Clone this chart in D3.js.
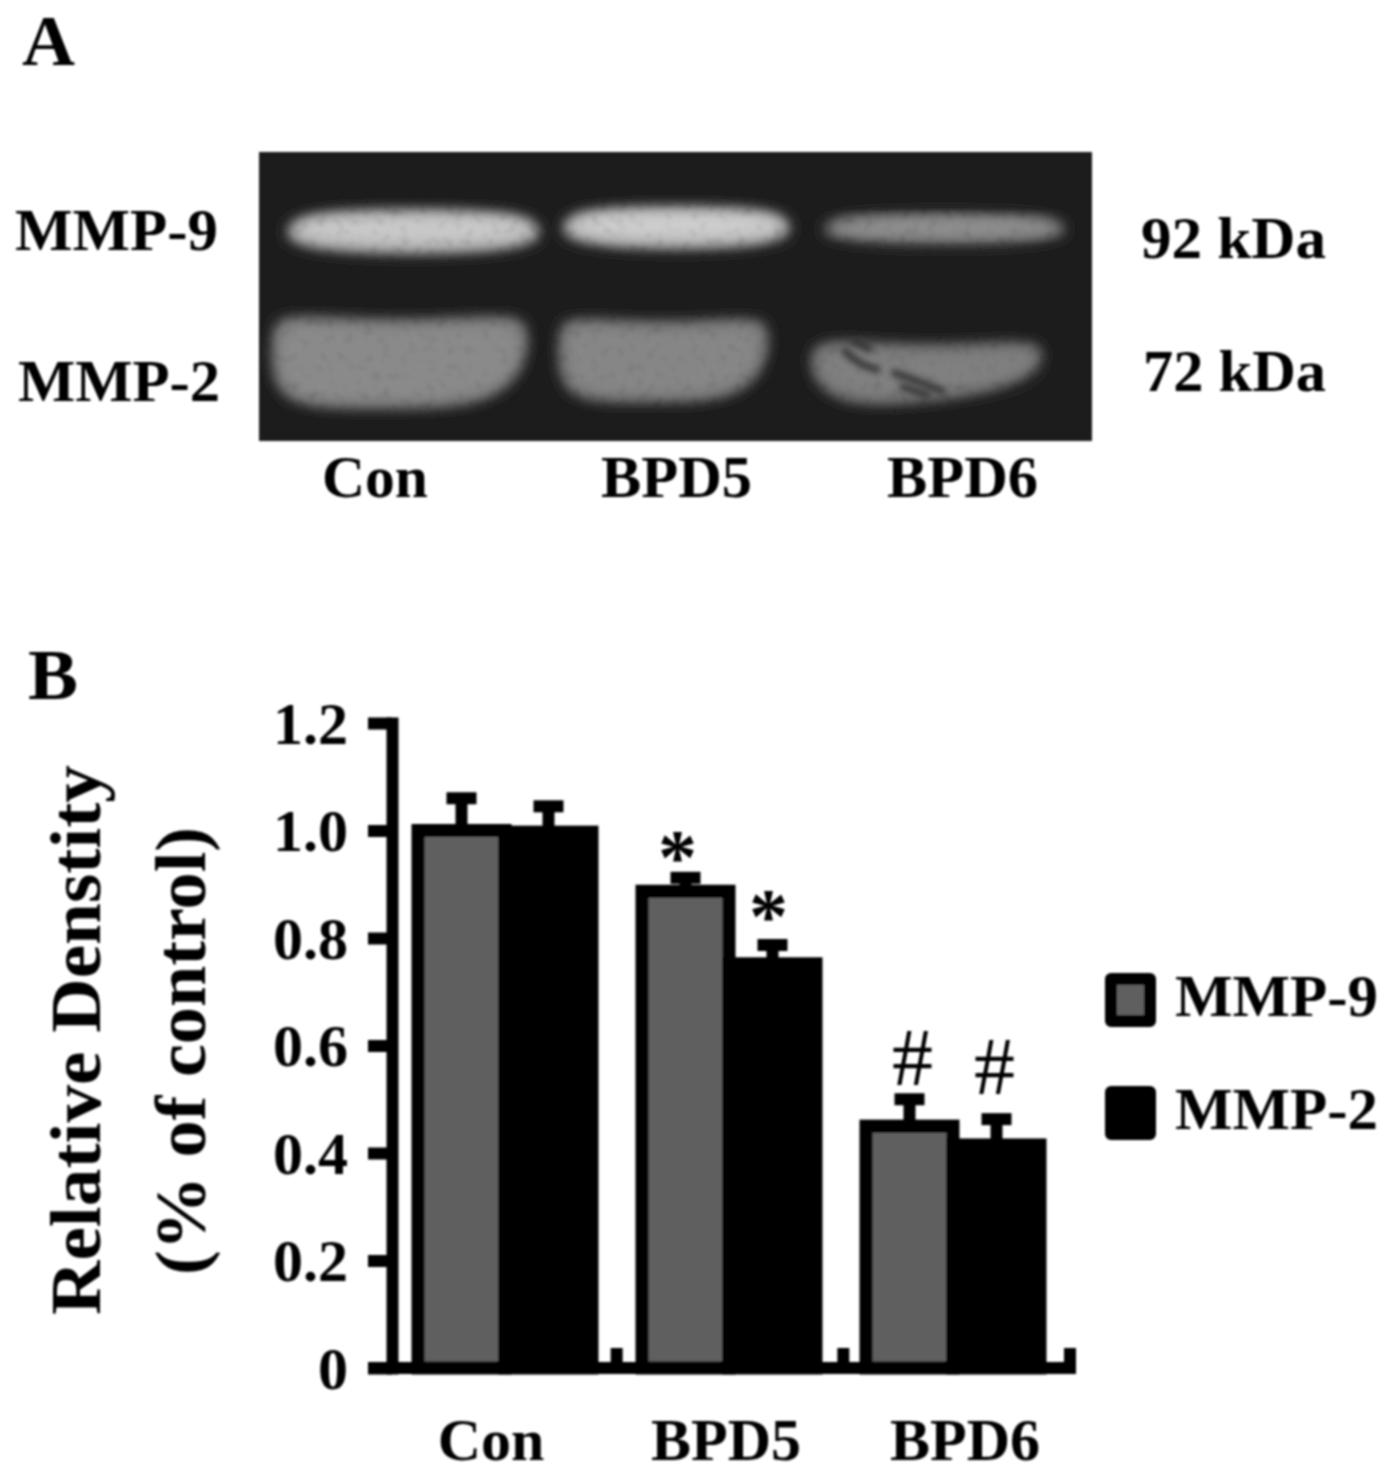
<!DOCTYPE html>
<html>
<head>
<meta charset="utf-8">
<script src="https://cdn.jsdelivr.net/npm/d3@7"></script>
<style>
  html, body { margin: 0; background: #fff; }
  svg { display: block; }
  text { font-family: "Liberation Serif", serif; font-weight: bold; fill: #000; }
</style>
</head>
<body>
<div id="chart"></div>
<script>
var groups = ['Con', 'BPD5', 'BPD6'];
var seriesNames = ['MMP-9', 'MMP-2'];
var mmp9Values = [1.0, 0.887, 0.45];
var mmp2Values = [0.997, 0.752, 0.415];
var mmp9Errors = [0.06, 0.025, 0.05];
var mmp2Errors = [0.048, 0.035, 0.048];
var mmp9Marks = ['', '*', '#'];
var mmp2Marks = ['', '*', '#'];
var yTicks = [0, 0.2, 0.4, 0.6, 0.8, 1.0, 1.2];
// brightness of the gel bands, 0-1
var mmp9Bright = [0.8, 0.82, 0.55];
var mmp2Bright = [0.5, 0.48, 0.45];

var svg = d3.select('#chart').append('svg').attr('width', 1384).attr('height', 1480);
var defs = svg.append('defs');

// everything in the source is a soft upscaled scan
defs.append('filter').attr('id', 'soft').attr('filterUnits', 'userSpaceOnUse')
  .attr('x', 0).attr('y', 0).attr('width', 1384).attr('height', 1480)
  .append('feGaussianBlur').attr('stdDeviation', 0.8);

// blur the band first and speckle it afterwards, so the grain stays visible
function bandFilter(id, blur, amount) {
  var f = defs.append('filter').attr('id', id).attr('x', '-20%').attr('y', '-50%').attr('width', '140%').attr('height', '200%');
  f.append('feGaussianBlur').attr('in', 'SourceGraphic').attr('stdDeviation', blur).attr('result', 'b');
  f.append('feTurbulence').attr('type', 'fractalNoise').attr('baseFrequency', 0.11).attr('numOctaves', 2).attr('seed', 7).attr('result', 'n');
  f.append('feColorMatrix').attr('in', 'n').attr('type', 'matrix')
    .attr('values', '0 0 0 0 0  0 0 0 0 0  0 0 0 0 0  ' + amount + ' 0 0 0 ' + (1 - amount * 0.5)).attr('result', 'mask');
  f.append('feComposite').attr('in', 'b').attr('in2', 'mask').attr('operator', 'in').attr('result', 'mottled');
  f.append('feGaussianBlur').attr('in', 'mottled').attr('stdDeviation', 1.3);
}
bandFilter('bandOuter', 6, 0.5);
bandFilter('bandInner', 8, 0.8);
defs.append('filter').attr('id', 'streak').attr('x', '-30%').attr('y', '-100%').attr('width', '160%').attr('height', '300%')
  .append('feGaussianBlur').attr('stdDeviation', 3.2);

var root = svg.append('g').attr('filter', 'url(#soft)');

function label(g, str, x, y, size, width) {
  var t = g.append('text').attr('x', x).attr('y', y).style('font-size', size + 'px').text(str);
  if (width) t.attr('textLength', width).attr('lengthAdjust', 'spacingAndGlyphs');
  return t;
}

// ---- panel A: the gel
var gel = root.append('g');
label(gel, 'A', 22, 65, 72, 53);
gel.append('rect').attr('x', 259).attr('y', 152).attr('width', 833).attr('height', 289).attr('fill', '#1f1f1f');

var line = d3.line().curve(d3.curveBasisClosed);
var grey = d3.scaleLinear().domain([0, 1]).range(['#1f1f1f', '#ffffff']);

// band outlines, unit square per band
var thinOutline = [[0, .5], [.02, .25], [.15, .05], [.5, 0], [.85, .05], [.98, .25], [1, .5], [.98, .7], [.85, .92], [.5, 1], [.15, .92], [.02, .7]];
var fatOutline = [[-.01, .45], [-.01, .03], [.06, -.06], [.5, .03], [.94, -.06], [1.01, .03], [1.01, .4], [.95, .76], [.78, 1.02], [.4, 1.02], [.1, 1.02], [0, .78]];
var bowlOutline = [[0, .15], [.08, -.06], [.5, .1], [.92, -.02], [1.01, .08], [.98, .52], [.75, .84], [.45, 1], [.18, 1.04], [.03, .72]];

var mmp9Boxes = [[284, 208, 259, 49], [560, 205, 233, 47], [821, 212, 247, 35]];
var mmp2Boxes = [[268, 313, 264, 100], [554, 315, 219, 92], [801, 335, 249, 75]];

function shrink(box, outline, inset, lift) {
  return outline.map(function(p) {
    return [box[0] + inset + p[0] * (box[2] - 2 * inset), box[1] + inset - lift + p[1] * (box[3] - 2 * inset)];
  });
}
function drawBand(box, outline, bright, outerInset, inset, lift) {
  gel.append('path').attr('d', line(shrink(box, outline, outerInset, 0))).attr('fill', grey(bright * 0.75)).attr('filter', 'url(#bandOuter)');
  gel.append('path').attr('d', line(shrink(box, outline, inset, lift))).attr('fill', grey(bright)).attr('opacity', 0.85).attr('filter', 'url(#bandInner)');
}
groups.forEach(function(g, i) {
  drawBand(mmp9Boxes[i], thinOutline, mmp9Bright[i], 2, 9, 3);
  drawBand(mmp2Boxes[i], i == 2 ? bowlOutline : fatOutline, mmp2Bright[i], 7, 12, 0);
});

// the cracked patches in the BPD6 MMP-2 band
var streaks = [[[843, 350], [862, 366], [880, 370]], [[852, 340], [872, 350]], [[892, 372], [915, 380], [945, 392]], [[900, 386], [930, 396]]];
streaks.forEach(function(s) {
  gel.append('path').attr('d', d3.line().curve(d3.curveBasis)(s)).attr('fill', 'none')
    .attr('stroke', '#333').attr('stroke-width', 7).attr('filter', 'url(#streak)');
});

label(gel, 'MMP-9', 15, 250, 60, 203);
label(gel, 'MMP-2', 18, 401, 60, 202);
label(gel, '92 kDa', 1141, 258, 60, 185);
label(gel, '72 kDa', 1143, 391, 60, 183);
label(gel, 'Con', 322, 497, 60, 106);
label(gel, 'BPD5', 601, 497, 60, 151);
label(gel, 'BPD6', 887, 497, 60, 151);

// ---- panel B: the bars
var chart = root.append('g');
label(chart, 'B', 28, 699, 72, 50);

var y = d3.scaleLinear().domain([0, 1.2]).range([1368, 723]);
var x0 = d3.scaleBand().domain(groups).range([394, 1066]);
var x1 = d3.scaleBand().domain(seriesNames).range([24, 198]);
// the axis ticks do not line up with the bar groups exactly
var xTick = d3.scaleBand().domain(groups).range([390, 1070]);

var colors = { 'MMP-9': '#5e5e5e', 'MMP-2': '#000000' };
var seriesData = [
  { name: 'MMP-9', values: mmp9Values, errors: mmp9Errors, marks: mmp9Marks, markDx: [0, -8, 3], markDy: [0, 5, -14] },
  { name: 'MMP-2', values: mmp2Values, errors: mmp2Errors, marks: mmp2Marks, markDx: [0, -4, -2], markDy: [0, -3, -25] }
];

// y axis
var yAxis = d3.axisLeft(y).tickValues(yTicks).tickSize(24).tickSizeOuter(0).tickPadding(20)
  .tickFormat(function(d) { return d === 0 ? '0' : d3.format('.1f')(d); });
var yG = chart.append('g').attr('transform', 'translate(392,0)').call(yAxis);
yG.selectAll('.tick line').attr('stroke', '#000').attr('stroke-width', 12);
yG.select('.domain').attr('stroke', '#000').attr('stroke-width', 12).attr('stroke-linecap', 'square');
yG.selectAll('.tick text').attr('fill', '#000').style('font-size', '60px').attr('dy', 20);

var bars = chart.selectAll('.series').data(seriesData).enter().append('g').attr('class', 'series');
function barCenter(s, i) { return x0(groups[i]) + x1(s.name) + x1.bandwidth() / 2; }

// error bars first, the bars cover their lower end
bars.each(function(s) {
  var g = d3.select(this);
  s.values.forEach(function(v, i) {
    var cx = barCenter(s, i);
    var top = y(v + s.errors[i]);
    g.append('line').attr('x1', cx).attr('x2', cx).attr('y1', y(v)).attr('y2', top)
      .attr('stroke', '#000').attr('stroke-width', 12);
    g.append('line').attr('x1', cx - 15).attr('x2', cx + 15).attr('y1', top).attr('y2', top)
      .attr('stroke', '#000').attr('stroke-width', 12);
    g.append('rect').attr('x', x0(groups[i]) + x1(s.name)).attr('width', x1.bandwidth())
      .attr('y', y(v)).attr('height', y(0) - y(v))
      .attr('fill', colors[s.name]).attr('stroke', '#000').attr('stroke-width', 13);
    if (s.marks[i]) {
      var star = s.marks[i] == '*';
      g.append('text').attr('x', cx + s.markDx[i]).attr('y', top + s.markDy[i])
        .attr('text-anchor', 'middle').style('font-size', star ? '78px' : '82px')
        .style('font-weight', star ? 'bold' : 'normal').text(s.marks[i]);
    }
  });
});

// x axis, ticks sit at the end of each group and point up
var xAxisG = chart.append('g');
xAxisG.append('line').attr('x1', 368).attr('x2', xTick.range()[1] + 6).attr('y1', y(0)).attr('y2', y(0))
  .attr('stroke', '#000').attr('stroke-width', 12);
xAxisG.selectAll('.up').data(groups).enter().append('line').attr('class', 'up')
  .attr('x1', function(d) { return xTick(d) + xTick.bandwidth(); })
  .attr('x2', function(d) { return xTick(d) + xTick.bandwidth(); })
  .attr('y1', y(0)).attr('y2', y(0) - 20)
  .attr('stroke', '#000').attr('stroke-width', 12);
var xLabelShift = [-15, -4, 11];
xAxisG.selectAll('.grp').data(groups).enter().append('text').attr('class', 'grp')
  .attr('x', function(d, i) { return x0(d) + x0.bandwidth() / 2 + xLabelShift[i]; })
  .attr('y', 1460).attr('text-anchor', 'middle').style('font-size', '60px').text(function(d) { return d; });

// axis title
label(chart, 'Relative Denstity', 0, 0, 72, 550).attr('transform', 'translate(100,1315) rotate(-90)');
label(chart, '(% of control)', 0, 0, 72, 448).attr('transform', 'translate(205,1275) rotate(-90)');

// legend
var legendY = d3.scalePoint().domain(seriesNames).range([1000, 1113]);
seriesNames.forEach(function(n) {
  chart.append('rect').attr('x', 1111).attr('y', legendY(n) - 21).attr('width', 39).attr('height', 42)
    .attr('fill', colors[n]).attr('stroke', '#000').attr('stroke-width', 12).attr('stroke-linejoin', 'round');
  label(chart, n, 1175, legendY(n) + 16, 60, 203);
});
</script>
</body>
</html>
